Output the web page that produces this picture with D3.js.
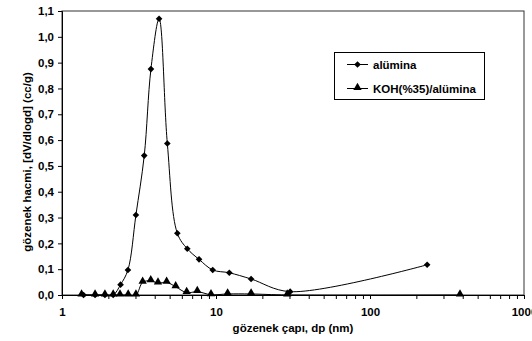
<!DOCTYPE html>
<html>
<head>
<meta charset="utf-8">
<script src="https://cdn.jsdelivr.net/npm/d3@7"></script>
<style>
body { margin: 0; background: #fff; }
svg text { font-family: "Liberation Sans", Arial, sans-serif; font-weight: bold; fill: #000; }
</style>
</head>
<body>
<svg id="chart" width="532" height="341"></svg>
<script>
// pore diameter (nm) and dV/dlogd values
var aluminaX = [1.38, 1.64, 1.90, 2.15, 2.40, 2.68, 3.02, 3.42, 3.78, 4.27, 4.83, 5.61, 6.51, 7.76, 9.52, 12.2, 16.9, 30.3, 235];
var aluminaY = [0, 0, 0, 0, 0.04, 0.097, 0.31, 0.54, 0.875, 1.07, 0.587, 0.239, 0.179, 0.138, 0.097, 0.086, 0.062, 0.013, 0.117];
var kohX = [1.34, 1.64, 1.90, 2.15, 2.38, 2.69, 3.02, 3.34, 3.77, 4.2, 4.78, 5.47, 6.45, 7.56, 9.28, 11.9, 16.9, 29.0, 384];
var kohY = [0, 0, 0, 0, 0, 0, 0, 0.049, 0.055, 0.046, 0.049, 0.032, 0.009, 0.013, 0.001, 0.004, 0.004, 0, 0];
var seriesNames = ["alümina", "KOH(%35)/alümina"];
var yTicks = [0, 0.1, 0.2, 0.3, 0.4, 0.5, 0.6, 0.7, 0.8, 0.9, 1.0, 1.1];
var xMajor = [1, 10, 100, 1000];

var svg = d3.select("#chart");
var plotLeft = 62, plotRight = 524, plotTop = 11, plotBottom = 295;
var fontSize = "11.5px";

var x = d3.scaleLog().domain([1, 1000]).range([plotLeft, plotRight]);
var y = d3.scaleLinear().domain([0, 1.1]).range([plotBottom, plotTop]);

// plot frame
svg.append("rect")
	.attr("x", plotLeft).attr("y", plotTop)
	.attr("width", plotRight - plotLeft).attr("height", plotBottom - plotTop)
	.style("fill", "none").style("stroke", "#333").style("stroke-width", 1);

// y axis
var yAxis = svg.append("g").attr("transform", "translate(" + plotLeft + ",0)")
	.call(d3.axisLeft(y).tickValues(yTicks).tickSize(4).tickPadding(4)
		.tickFormat(function (d) { return d3.format(".1f")(d).replace(".", ","); }));
yAxis.select(".domain").style("stroke", "#000");
yAxis.selectAll("text").style("font-size", fontSize);

// x axis with minor ticks
var minor = [];
for (var p = 1; p < 1000; p *= 10) for (var k = 1; k < 10; k++) minor.push(p * k);
minor.push(1000);
var xAxis = svg.append("g").attr("transform", "translate(0," + plotBottom + ")")
	.call(d3.axisBottom(x).tickValues(minor).tickSize(4).tickPadding(9)
		.tickFormat(function (d) { return xMajor.indexOf(d) >= 0 ? d : ""; }));
xAxis.select(".domain").style("stroke", "#000");
xAxis.selectAll("text").style("font-size", fontSize);

// axis titles
svg.append("text")
	.attr("x", 293).attr("y", 332)
	.style("text-anchor", "middle").style("font-size", fontSize)
	.text("gözenek çapı, dp (nm)");
svg.append("text")
	.attr("transform", "translate(31,162) rotate(-90)")
	.style("text-anchor", "middle").style("font-size", fontSize)
	.text("gözenek hacmi, [dV/dlogd] (cc/g)");

var line = d3.line()
	.x(function (d) { return x(d[0]); })
	.y(function (d) { return y(d[1]); })
	.curve(d3.curveCatmullRom.alpha(0.5));

var alumina = aluminaX.map(function (d, i) { return [d, aluminaY[i]]; });
var koh = kohX.map(function (d, i) { return [d, kohY[i]]; });

// diamond = square turned 45 degrees
var diamond = d3.symbol().type(d3.symbolSquare).size(22);
var triangle = d3.symbol().type(d3.symbolTriangle).size(30);
var syms = [diamond, triangle];
var rot = [45, 0];

function drawSeries(data, i, dy) {
	svg.append("path").datum(data)
		.attr("d", line)
		.style("fill", "none").style("stroke", "#000").style("stroke-width", 1);
	svg.append("g").selectAll("path")
		.data(data).enter().append("path")
		.attr("transform", function (d) { return "translate(" + x(d[0]) + "," + (y(d[1]) + dy) + ") rotate(" + rot[i] + ")"; })
		.attr("d", syms[i])
		.style("fill", "#000");
}
drawSeries(koh, 1, -1);
drawSeries(alumina, 0, 0);

// legend
var legend = svg.append("g");
legend.append("rect")
	.attr("x", 334.5).attr("y", 52.5).attr("width", 150).attr("height", 47)
	.style("fill", "#fff").style("stroke", "#000").style("stroke-width", 1);
seriesNames.forEach(function (name, i) {
	var ly = 64.5 + i * 24;
	legend.append("line")
		.attr("x1", 347).attr("x2", 368).attr("y1", ly).attr("y2", ly)
		.style("stroke", "#000");
	legend.append("path")
		.attr("transform", "translate(357.5," + (ly - (i ? 1 : 0)) + ") rotate(" + rot[i] + ")")
		.attr("d", syms[i]).style("fill", "#000");
	legend.append("text")
		.attr("x", 373).attr("y", ly + 4)
		.style("font-size", fontSize)
		.text(name);
});
</script>
</body>
</html>
